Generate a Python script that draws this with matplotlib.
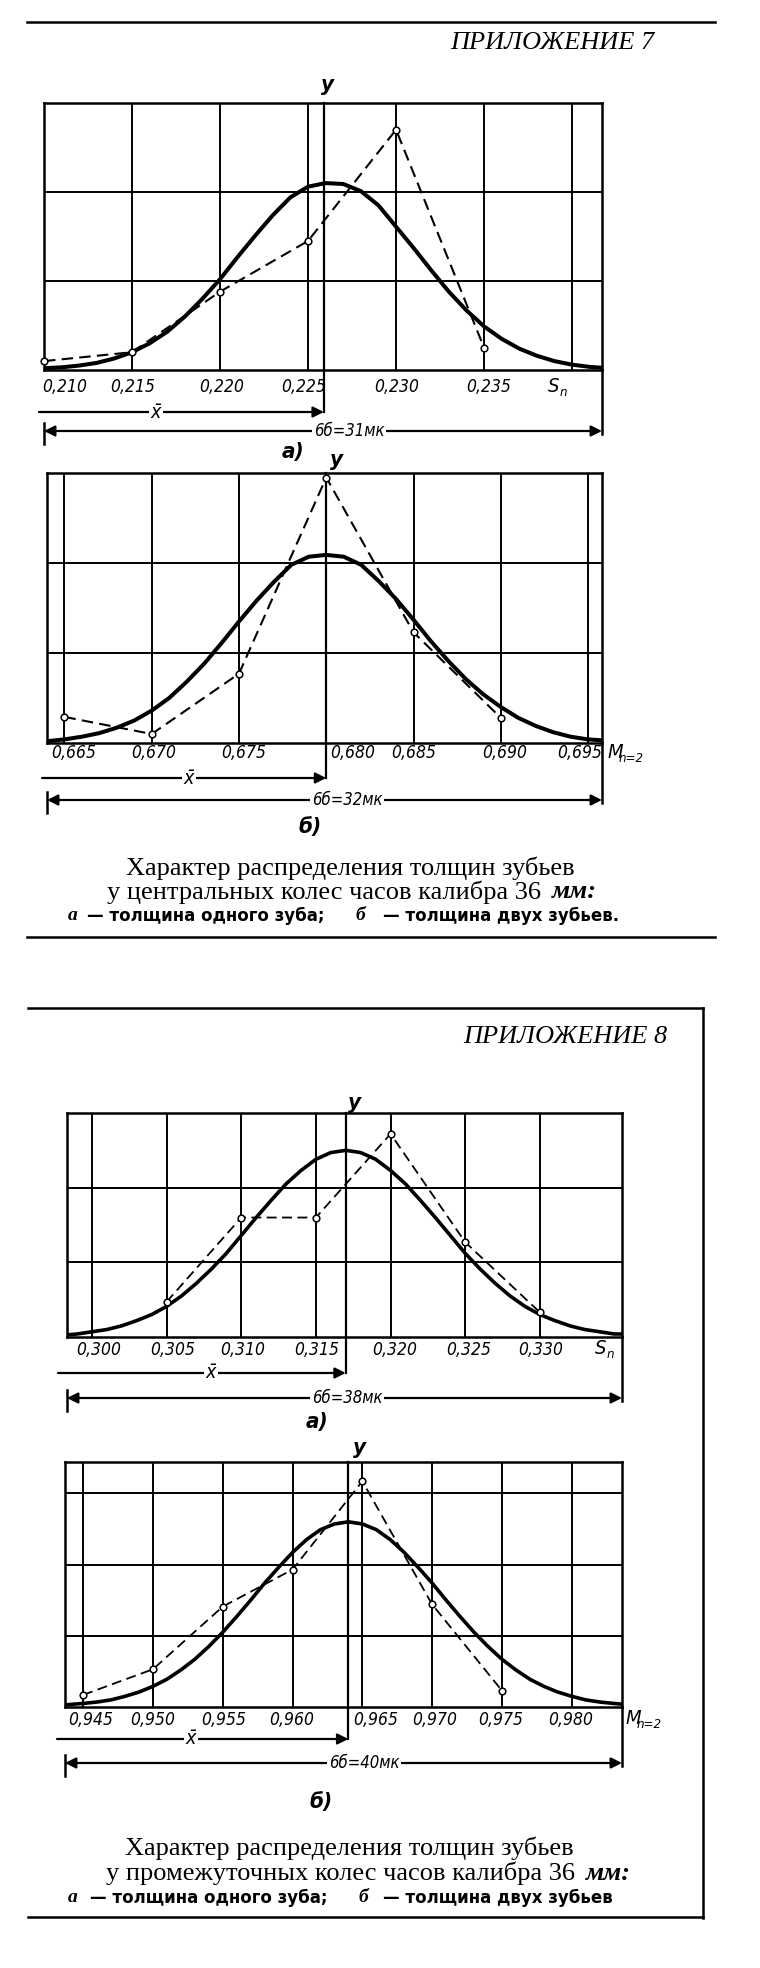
import matplotlib
matplotlib.use("Agg")
import matplotlib.pyplot as plt
from matplotlib.lines import Line2D
from matplotlib.transforms import Affine2D, blended_transform_factory

W, H = 760, 1968

# ---- values (y in grid rows above the x axis) ----
# Appendix 7 a): thickness of one tooth, S_n
a7_grid = [0.215, 0.220, 0.225, 0.230, 0.235, 0.240]
a7_ticks = [0.210, 0.215, 0.220, 0.225, 0.230, 0.235]
a7_labels = ["0,210", "0,215", "0,220", "0,225", "0,230", "0,235"]
a7_mean = 0.2259
a7_curve_x = [0.210, 0.211, 0.212, 0.213, 0.214, 0.215, 0.216, 0.217, 0.218, 0.219,
              0.220, 0.221, 0.222, 0.223, 0.224, 0.225, 0.226, 0.227, 0.228, 0.229,
              0.230, 0.231, 0.232, 0.233, 0.234, 0.235, 0.236, 0.237, 0.238, 0.239,
              0.240, 0.241, 0.2417]
a7_curve_y = [0.02, 0.03, 0.05, 0.08, 0.13, 0.20, 0.30, 0.43, 0.60, 0.80,
              1.02, 1.27, 1.51, 1.74, 1.94, 2.06, 2.10, 2.09, 2.01, 1.85,
              1.61, 1.37, 1.12, 0.88, 0.67, 0.49, 0.35, 0.24, 0.16, 0.10,
              0.06, 0.035, 0.025]
a7_pts_x = [0.210, 0.215, 0.220, 0.225, 0.230, 0.235]
a7_pts_y = [0.10, 0.20, 0.88, 1.45, 2.70, 0.25]

# Appendix 7 b): thickness of two teeth, M_n=2
b7_grid = [0.665, 0.670, 0.675, 0.680, 0.685, 0.690, 0.695]
b7_ticks = [0.665, 0.670, 0.675, 0.680, 0.685, 0.690, 0.695]
b7_labels = ["0,665", "0,670", "0,675", "0,680", "0,685", "0,690", "0,695"]
b7_mean = 0.6800
b7_curve_x = [0.664, 0.665, 0.666, 0.667, 0.668, 0.669, 0.670, 0.671, 0.672, 0.673,
              0.674, 0.675, 0.676, 0.677, 0.678, 0.679, 0.680, 0.681, 0.682, 0.683,
              0.684, 0.685, 0.686, 0.687, 0.688, 0.689, 0.690, 0.691, 0.692, 0.693,
              0.694, 0.695, 0.6958]
b7_curve_y = [0.02, 0.04, 0.07, 0.11, 0.17, 0.25, 0.36, 0.50, 0.68, 0.88,
              1.11, 1.35, 1.58, 1.79, 1.98, 2.07, 2.09, 2.07, 1.98, 1.80,
              1.60, 1.37, 1.13, 0.91, 0.71, 0.54, 0.40, 0.28, 0.19, 0.12,
              0.07, 0.04, 0.03]
b7_pts_x = [0.665, 0.670, 0.675, 0.680, 0.685, 0.690]
b7_pts_y = [0.29, 0.10, 0.77, 2.95, 1.23, 0.28]

# Appendix 8 a): thickness of one tooth, S_n
a8_grid = [0.300, 0.305, 0.310, 0.315, 0.320, 0.325, 0.330]
a8_ticks = [0.300, 0.305, 0.310, 0.315, 0.320, 0.325, 0.330]
a8_labels = ["0,300", "0,305", "0,310", "0,315", "0,320", "0,325", "0,330"]
a8_mean = 0.3170
a8_curve_x = [0.2984, 0.299, 0.300, 0.301, 0.302, 0.303, 0.304, 0.305, 0.306, 0.307,
              0.308, 0.309, 0.310, 0.311, 0.312, 0.313, 0.314, 0.315, 0.316, 0.317,
              0.318, 0.319, 0.320, 0.321, 0.322, 0.323, 0.324, 0.325, 0.326, 0.327,
              0.328, 0.329, 0.330, 0.331, 0.332, 0.333, 0.334, 0.335, 0.3355]
a8_curve_y = [0.03, 0.04, 0.07, 0.10, 0.15, 0.22, 0.30, 0.41, 0.55, 0.72,
              0.91, 1.12, 1.36, 1.60, 1.83, 2.05, 2.23, 2.38, 2.47, 2.50,
              2.47, 2.38, 2.23, 2.05, 1.83, 1.60, 1.36, 1.12, 0.91, 0.72,
              0.55, 0.41, 0.30, 0.22, 0.15, 0.10, 0.07, 0.04, 0.04]
a8_pts_x = [0.305, 0.310, 0.315, 0.320, 0.325, 0.330]
a8_pts_y = [0.47, 1.60, 1.60, 2.72, 1.27, 0.33]

# Appendix 8 b): thickness of two teeth, M_n=2
b8_grid = [0.945, 0.950, 0.955, 0.960, 0.965, 0.970, 0.975, 0.980]
b8_ticks = [0.945, 0.950, 0.955, 0.960, 0.965, 0.970, 0.975, 0.980]
b8_labels = ["0,945", "0,950", "0,955", "0,960", "0,965", "0,970", "0,975", "0,980"]
b8_mean = 0.9640
b8_curve_x = [0.9437, 0.945, 0.946, 0.947, 0.948, 0.949, 0.950, 0.951, 0.952, 0.953,
              0.954, 0.955, 0.956, 0.957, 0.958, 0.959, 0.960, 0.961, 0.962, 0.963,
              0.964, 0.965, 0.966, 0.967, 0.968, 0.969, 0.970, 0.971, 0.972, 0.973,
              0.974, 0.975, 0.976, 0.977, 0.978, 0.979, 0.980, 0.981, 0.982, 0.983,
              0.9836]
b8_curve_y = [0.03, 0.05, 0.07, 0.10, 0.15, 0.21, 0.29, 0.39, 0.52, 0.67,
              0.85, 1.05, 1.27, 1.50, 1.74, 1.96, 2.17, 2.35, 2.49, 2.57,
              2.60, 2.57, 2.49, 2.35, 2.17, 1.96, 1.74, 1.50, 1.27, 1.05,
              0.85, 0.67, 0.52, 0.39, 0.29, 0.21, 0.15, 0.10, 0.07, 0.05,
              0.04]
b8_pts_x = [0.945, 0.950, 0.955, 0.960, 0.965, 0.970, 0.975]
b8_pts_y = [0.17, 0.53, 1.41, 1.93, 3.17, 1.44, 0.23]

NARROW = ["DejaVu Sans Condensed", "Liberation Sans Narrow", "DejaVu Sans"]
SERIF = ["Liberation Serif", "DejaVu Serif"]
SANS = ["DejaVu Sans"]
TICK_SIZE = 12.5

fig = plt.figure(figsize=(W / 100, H / 100), dpi=100)
fig.patch.set_facecolor("white")
px = Affine2D().scale(1 / W, -1 / H).translate(0, 1) + fig.transFigure


def hline(x0, x1, y, lw=1.6):
    fig.add_artist(Line2D([x0, x1], [y, y], transform=px, color="black", lw=lw))


def vline(x, y0, y1, lw=1.6):
    fig.add_artist(Line2D([x, x], [y0, y1], transform=px, color="black", lw=lw))


def ptext(x, y, s, size, family=NARROW, style="normal", weight="normal", ha="center"):
    fig.text(x, y, s, transform=px, fontsize=size, family=family, style=style,
             weight=weight, ha=ha, va="center", color="black")


def panel(box, xlim, ymax, grid_x, ticks, labels, label_dx, label_y, mean,
          cx, cy, pts_x, pts_y, xbar_y, xbar_x0, xbar_lbl, sig_y, sig_lbl, sig_txt,
          ylab_dx, ylab_y, unit, unit_x, sub, part, part_xy, lw_curve=2.9, lw_dash=1.5):
    left, top, right, bottom = box
    ax = fig.add_axes([left / W, 1 - bottom / H, (right - left) / W, (bottom - top) / H])
    ax.set_xlim(*xlim)
    ax.set_ylim(0, ymax)
    ax.set_xticks([])
    ax.set_yticks([])
    for sp in ax.spines.values():
        sp.set_linewidth(1.8)
    for gx in grid_x:
        ax.axvline(gx, color="black", lw=1.4)
    row = 1
    while row < ymax - 0.05:
        ax.axhline(row, color="black", lw=1.4)
        row += 1

    bd = blended_transform_factory(ax.transData, px)
    ba = blended_transform_factory(ax.transAxes, px)
    cond = dict(family=NARROW, style="italic", stretch="condensed")

    # ordinate at the mean, continued down to the x-bar arrow
    ax.add_line(Line2D([mean, mean], [top, xbar_y], transform=bd, color="black",
                       lw=1.6, clip_on=False))
    # right border continued down to the 6 sigma arrow, short stroke at the left end
    ax.add_line(Line2D([1, 1], [bottom, sig_y + 3], transform=ba, color="black",
                       lw=1.8, clip_on=False))
    ax.add_line(Line2D([0, 0], [sig_y - 8, sig_y + 13], transform=ba, color="black",
                       lw=1.8, clip_on=False))

    ax.plot(cx, cy, color="black", lw=lw_curve, solid_capstyle="round", zorder=4)
    ax.plot(pts_x, pts_y, color="black", lw=lw_dash, dashes=(5.5, 3), zorder=5,
            marker="o", markersize=4.8, markerfacecolor="white",
            markeredgecolor="black", markeredgewidth=1.1, clip_on=False)

    for t, lab, dx in zip(ticks, labels, label_dx):
        ax.text(t, label_y, lab, transform=bd + Affine2D().translate(dx, 0),
                fontsize=TICK_SIZE, ha="center", va="center", **cond)
    ax.text(unit_x, label_y - 1, unit, transform=px, fontsize=14.5, ha="left",
            va="center", **cond)
    ax.text(unit_x + 12, label_y + 5, sub, transform=px, fontsize=9.5, ha="left",
            va="center", **cond)

    arrow = dict(arrowstyle="-|>", color="black", lw=1.6, mutation_scale=16,
                 shrinkA=0, shrinkB=0)
    ax.annotate("", xy=(mean, xbar_y), xycoords=bd, xytext=(xbar_x0, xbar_y),
                textcoords=px, arrowprops=arrow)
    ax.text(xbar_lbl, xbar_y, "x\u0304", transform=px, fontsize=14, ha="center",
            va="center", bbox=dict(facecolor="white", edgecolor="none", pad=1.5), **cond)
    both = dict(arrowstyle="<|-|>", color="black", lw=1.6, mutation_scale=16,
                shrinkA=0, shrinkB=0)
    ax.annotate("", xy=(1, sig_y), xycoords=ba, xytext=(0, sig_y), textcoords=ba,
                arrowprops=both)
    ax.text(sig_lbl, sig_y, sig_txt, transform=px, fontsize=12, ha="center",
            va="center", bbox=dict(facecolor="white", edgecolor="none", pad=1.5), **cond)
    ax.text(mean, ylab_y, "y", transform=bd + Affine2D().translate(ylab_dx, 0),
            fontsize=16, ha="center", va="center", weight="bold", **cond)
    ax.text(part_xy[0], part_xy[1], part, transform=px, fontsize=16, ha="center",
            va="center", weight="bold", **cond)
    return ax


# ---------------- Appendix 7 ----------------
hline(27, 715, 22, lw=1.8)
ptext(552, 43, "ПРИЛОЖЕНИЕ 7", 19, family=SERIF, style="italic")

panel((44, 103, 602, 370), (0.2100, 0.2417), 3, a7_grid, a7_ticks, a7_labels,
      [21, 1, 2, -4, 1, 5], 387, a7_mean, a7_curve_x, a7_curve_y, a7_pts_x, a7_pts_y,
      xbar_y=412, xbar_x0=39, xbar_lbl=156, sig_y=431, sig_lbl=349,
      sig_txt="6б=31мк", ylab_dx=4, ylab_y=85, unit="S", unit_x=548, sub="n",
      part="а)", part_xy=(293, 452))

panel((47, 473, 602, 743), (0.6640, 0.6958), 3, b7_grid, b7_ticks, b7_labels,
      [9, 2, 5, 26, 0, 4, -8], 753, b7_mean, b7_curve_x, b7_curve_y, b7_pts_x, b7_pts_y,
      xbar_y=778, xbar_x0=42, xbar_lbl=189, sig_y=800, sig_lbl=347,
      sig_txt="6б=32мк", ylab_dx=10, ylab_y=460, unit="M", unit_x=607, sub="n=2",
      part="б)", part_xy=(310, 827))

ptext(350, 868, "Характер распределения толщин зубьев", 19, family=SERIF)
ptext(548, 892, "у центральных колес часов калибра 36 ", 19, family=SERIF, ha="right")
ptext(552, 892, "мм:", 19, family=SERIF, style="italic", weight="bold", ha="left")
ptext(68, 916, "а", 14, family=SERIF, style="italic", weight="bold", ha="left")
ptext(87, 916, "— толщина одного зуба;", 12, family=SANS, weight="bold", ha="left")
ptext(356, 916, "б", 14, family=SERIF, style="italic", weight="bold", ha="left")
ptext(383, 916, "— толщина двух зубьев.", 12, family=SANS, weight="bold", ha="left")
hline(27, 715, 937, lw=1.8)

# ---------------- Appendix 8 ----------------
hline(28, 703, 1008, lw=1.8)
vline(703, 1008, 1918, lw=1.8)
ptext(565, 1037, "ПРИЛОЖЕНИЕ 8", 19, family=SERIF, style="italic")

panel((67, 1113, 622, 1337), (0.29833, 0.3355), 3, a8_grid, a8_ticks, a8_labels,
      [7, 6, 1, 1, 4, 3, 1], 1350, a8_mean, a8_curve_x, a8_curve_y, a8_pts_x, a8_pts_y,
      xbar_y=1373, xbar_x0=58, xbar_lbl=211, sig_y=1398, sig_lbl=347,
      sig_txt="6б=38мк", ylab_dx=9, ylab_y=1103, unit="S", unit_x=595, sub="n",
      part="а)", part_xy=(317, 1422), lw_curve=2.6, lw_dash=1.3)

panel((65, 1462, 622, 1707), (0.9437, 0.9836), 3.44, b8_grid, b8_ticks, b8_labels,
      [8, 0, 1, -1, 13, 3, -1, -1], 1720, b8_mean, b8_curve_x, b8_curve_y, b8_pts_x,
      b8_pts_y, xbar_y=1739, xbar_x0=57, xbar_lbl=191, sig_y=1763, sig_lbl=364,
      sig_txt="6б=40мк", ylab_dx=11, ylab_y=1448, unit="M", unit_x=625, sub="n=2",
      part="б)", part_xy=(321, 1802), lw_curve=2.6, lw_dash=1.3)

ptext(349, 1848, "Характер распределения толщин зубьев", 19, family=SERIF)
ptext(582, 1873, "у промежуточных колес часов калибра 36 ", 19, family=SERIF, ha="right")
ptext(586, 1873, "мм:", 19, family=SERIF, style="italic", weight="bold", ha="left")
ptext(68, 1898, "а", 14, family=SERIF, style="italic", weight="bold", ha="left")
ptext(90, 1898, "— толщина одного зуба;", 12, family=SANS, weight="bold", ha="left")
ptext(359, 1898, "б", 14, family=SERIF, style="italic", weight="bold", ha="left")
ptext(383, 1898, "— толщина двух зубьев", 12, family=SANS, weight="bold", ha="left")
hline(28, 703, 1917, lw=1.8)

fig.savefig("out.png", dpi=100, facecolor="white")
